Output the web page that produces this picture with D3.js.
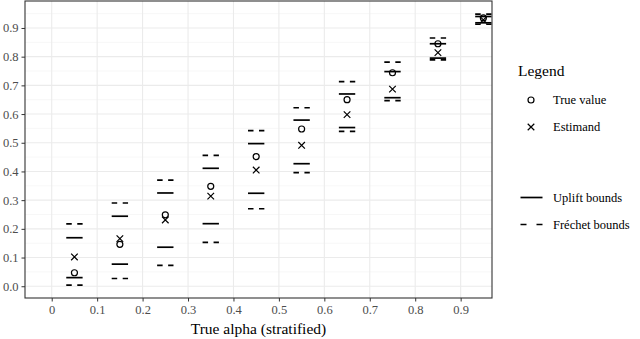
<!DOCTYPE html>
<html lang="en">
<head>
  <meta charset="UTF-8">
  <title>Bounds vs true alpha</title>
  <script src="https://cdn.jsdelivr.net/npm/d3@7"></script>
  <style>
    body { margin: 0; background: #fff; }
    svg { font-family: "Liberation Serif", "DejaVu Serif", serif; }
  </style>
</head>
<body>
  <svg width="640" height="339"></svg>
  <script>
    // values
    var alpha       = [0.05, 0.15, 0.25, 0.35, 0.45, 0.55, 0.65, 0.75, 0.85, 0.95];
    var trueValue   = [0.047, 0.146, 0.249, 0.348, 0.452, 0.548, 0.650, 0.744, 0.845, 0.935];
    var estimand    = [0.102, 0.166, 0.231, 0.314, 0.405, 0.491, 0.598, 0.687, 0.814, 0.928];
    var upliftLow   = [0.030, 0.077, 0.136, 0.218, 0.324, 0.427, 0.553, 0.657, 0.795, 0.918];
    var upliftHigh  = [0.169, 0.244, 0.325, 0.411, 0.497, 0.579, 0.670, 0.748, 0.845, 0.940];
    var frechetLow  = [0.004, 0.027, 0.073, 0.153, 0.270, 0.396, 0.540, 0.647, 0.789, 0.913];
    var frechetHigh = [0.217, 0.290, 0.370, 0.456, 0.542, 0.622, 0.713, 0.781, 0.865, 0.948];
    var xTicks = [0, 0.1, 0.2, 0.3, 0.4, 0.5, 0.6, 0.7, 0.8, 0.9];
    var yTicks = [0, 0.1, 0.2, 0.3, 0.4, 0.5, 0.6, 0.7, 0.8, 0.9];
    var yMinor = [0.05, 0.15, 0.25, 0.35, 0.45, 0.55, 0.65, 0.75, 0.85, 0.95];

    var svg = d3.select("svg");
    var pL = 25, pR = 492, pT = 1, pB = 298;

    var x = d3.scaleLinear().domain([-0.0588, 0.969]).range([pL, pR]);
    var y = d3.scaleLinear().domain([-0.041, 0.994]).range([pB, pT]);
    var half = 0.018;

    // grid
    svg.append("g").selectAll("line").data(yMinor).enter().append("line")
      .attr("x1", pL).attr("x2", pR)
      .attr("y1", d => y(d)).attr("y2", d => y(d))
      .attr("stroke", "#f2f2f2").attr("stroke-width", 0.6);
    svg.append("g").selectAll("line").data(yTicks).enter().append("line")
      .attr("x1", pL).attr("x2", pR)
      .attr("y1", d => y(d)).attr("y2", d => y(d))
      .attr("stroke", "#ebebeb").attr("stroke-width", 1.1);
    svg.append("g").selectAll("line").data(xTicks).enter().append("line")
      .attr("y1", pT).attr("y2", pB)
      .attr("x1", d => x(d)).attr("x2", d => x(d))
      .attr("stroke", "#ebebeb").attr("stroke-width", 1.1);

    // bound segments
    function segs(vals, dashed) {
      svg.append("g").selectAll("line").data(vals).enter().append("line")
        .attr("x1", (d, i) => x(alpha[i] - half))
        .attr("x2", (d, i) => x(alpha[i] + half))
        .attr("y1", d => y(d)).attr("y2", d => y(d))
        .attr("stroke", "#000").attr("stroke-width", 1.7)
        .attr("stroke-dasharray", dashed ? "5.5,5.5" : null);
    }
    segs(frechetLow, true);
    segs(frechetHigh, true);
    segs(upliftLow, false);
    segs(upliftHigh, false);

    // points
    svg.append("g").selectAll("circle").data(trueValue).enter().append("circle")
      .attr("cx", (d, i) => x(alpha[i])).attr("cy", d => y(d))
      .attr("r", 3).attr("fill", "none").attr("stroke", "#000").attr("stroke-width", 1.2);
    var cross = d3.symbol().type(d3.symbolTimes).size(30);
    svg.append("g").selectAll("path").data(estimand).enter().append("path")
      .attr("d", cross)
      .attr("transform", (d, i) => "translate(" + x(alpha[i]) + "," + y(d) + ")")
      .attr("fill", "none").attr("stroke", "#000").attr("stroke-width", 1.2);

    // border
    svg.append("rect")
      .attr("x", pL).attr("y", pT)
      .attr("width", pR - pL).attr("height", pB - pT)
      .attr("fill", "none").attr("stroke", "#333").attr("stroke-width", 1.1);

    // axes
    var xAxis = svg.append("g")
      .attr("transform", "translate(0," + pB + ")")
      .call(d3.axisBottom(x).tickValues(xTicks).tickSize(3.5).tickPadding(4)
        .tickFormat(d => d === 0 ? "0" : d3.format(".1f")(d)));
    var yAxis = svg.append("g")
      .attr("transform", "translate(" + pL + ",0)")
      .call(d3.axisLeft(y).tickValues(yTicks).tickSize(3.5).tickPadding(3)
        .tickFormat(d3.format(".1f")));
    [xAxis, yAxis].forEach(function (a) {
      a.select(".domain").remove();
      a.selectAll(".tick line").attr("stroke", "#333");
      a.selectAll(".tick text").attr("fill", "#4d4d4d")
        .style("font-family", "Liberation Serif").style("font-size", "12.5px");
    });

    svg.append("text")
      .attr("x", (pL + pR) / 2).attr("y", 334)
      .attr("text-anchor", "middle").attr("font-size", 15.5)
      .text("True alpha (stratified)");

    // legend
    var lg = svg.append("g");
    lg.append("text").attr("x", 518).attr("y", 76).attr("font-size", 15.5).text("Legend");
    lg.append("circle").attr("cx", 531).attr("cy", 100).attr("r", 3)
      .attr("fill", "none").attr("stroke", "#000").attr("stroke-width", 1.2);
    lg.append("path").attr("d", cross).attr("transform", "translate(531,127)")
      .attr("fill", "none").attr("stroke", "#000").attr("stroke-width", 1.2);
    lg.append("line").attr("x1", 520.5).attr("x2", 542.5).attr("y1", 197.5).attr("y2", 197.5)
      .attr("stroke", "#000").attr("stroke-width", 1.7);
    lg.append("line").attr("x1", 520.5).attr("x2", 542.5).attr("y1", 224.5).attr("y2", 224.5)
      .attr("stroke", "#000").attr("stroke-width", 1.7).attr("stroke-dasharray", "6,10");
    var labels = [["True value", 100], ["Estimand", 127], ["Uplift bounds", 197.5], ["Fréchet bounds", 224.5]];
    labels.forEach(function (l) {
      lg.append("text").attr("x", 553).attr("y", l[1]).attr("dy", "0.35em")
        .attr("font-size", 12.5).text(l[0]);
    });
  </script>
</body>
</html>
